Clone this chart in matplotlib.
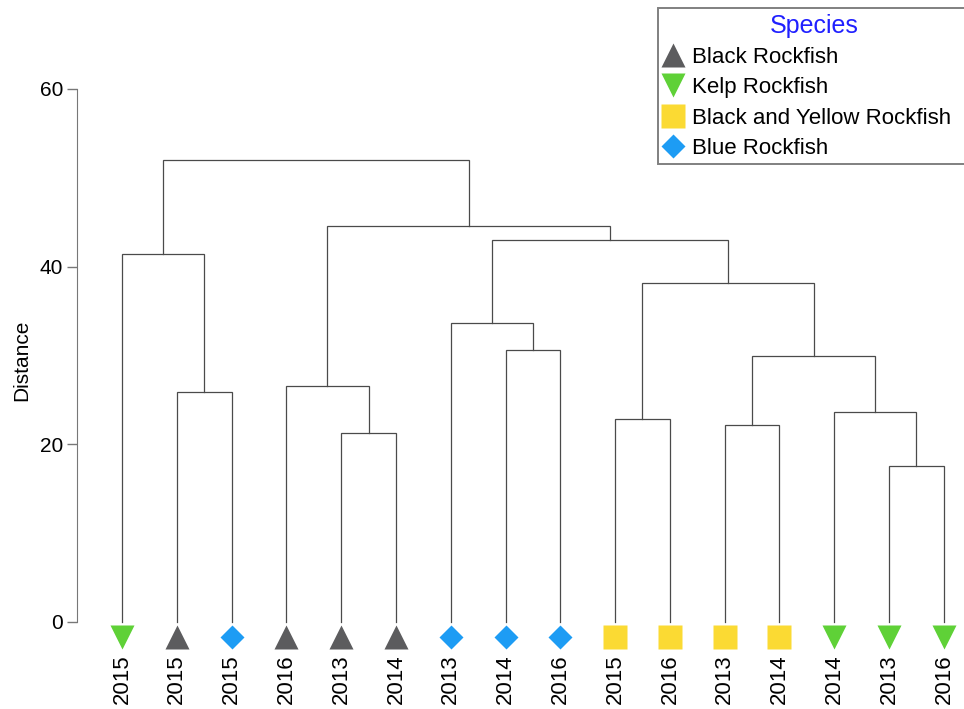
import matplotlib.pyplot as plt
from matplotlib.lines import Line2D

plt.rcParams['font.family'] = ['Liberation Sans', 'DejaVu Sans']

# leaves, left to right
leaf_species = ["Kelp", "Black", "Blue", "Black", "Black", "Black", "Blue", "Blue",
                "Blue", "BY", "BY", "BY", "BY", "Kelp", "Kelp", "Kelp"]
leaf_years = ["2015", "2015", "2015", "2016", "2013", "2014", "2013", "2014",
              "2016", "2015", "2016", "2013", "2014", "2014", "2013", "2016"]

# merges: (left node, right node, height); leaves are 0..15, merge k gets id 16+k
merges = [
    (1, 2, 25.9),
    (0, 16, 41.4),
    (4, 5, 21.3),
    (3, 18, 26.6),
    (7, 8, 30.6),
    (6, 20, 33.7),
    (9, 10, 22.9),
    (11, 12, 22.2),
    (14, 15, 17.6),
    (13, 24, 23.6),
    (23, 25, 29.9),
    (22, 26, 38.2),
    (21, 27, 43.0),
    (19, 28, 44.6),
    (17, 29, 52.0),
]

species_names = ["Black", "Kelp", "BY", "Blue"]
species_labels = ["Black Rockfish", "Kelp Rockfish", "Black and Yellow Rockfish", "Blue Rockfish"]
species_marker = {"Black": "^", "Kelp": "v", "BY": "s", "Blue": "D"}
species_size = {"Black": 17, "Kelp": 17, "BY": 17, "Blue": 12.5}
species_color = {"Black": "#5c5c5e", "Kelp": "#5fd137", "BY": "#fbda33", "Blue": "#1d9cf4"}

fig = plt.figure(figsize=(9.64, 7.09), dpi=100)
ax = fig.add_axes([77 / 964, 0.0852, 0.920, 0.8144])

line_col = "#4a4a4a"
xpos = {i: float(i) for i in range(len(leaf_years))}
ypos = {i: 0.0 for i in range(len(leaf_years))}
for k, (a, b, h) in enumerate(merges):
    xa, xb = xpos[a], xpos[b]
    ax.plot([xa, xa, xb, xb], [ypos[a], h, h, ypos[b]], color=line_col, lw=0.9,
            solid_joinstyle='miter')
    xpos[16 + k] = (xa + xb) / 2
    ypos[16 + k] = h

for i, sp in enumerate(leaf_species):
    ax.plot(i, -1.7, marker=species_marker[sp], ms=species_size[sp],
            color=species_color[sp], mec='none', clip_on=False, zorder=3)

ax.set_xlim(-0.82, 15.365)
ax.set_ylim(-3, 62)
ax.set_xticks(range(len(leaf_years)))
ax.set_xticklabels(leaf_years, rotation=90, fontsize=16)
ax.tick_params(axis='x', length=0, pad=4.5)
ax.set_yticks([0, 20, 40, 60])
ax.tick_params(axis='y', labelsize=15, length=7, width=1, color="#777777", pad=3)
for s in ['top', 'right', 'bottom']:
    ax.spines[s].set_visible(False)
ax.spines['left'].set_bounds(0, 60)
ax.spines['left'].set_color("#777777")
ax.set_ylabel("Distance", fontsize=15, labelpad=6)

handles = [Line2D([], [], ls='none', marker=species_marker[s], ms=species_size[s],
                  color=species_color[s], mec='none') for s in species_names]
leg = fig.legend(handles, species_labels, loc='upper left', mode='expand',
                 bbox_to_anchor=(658 / 964, 0, 312 / 964, 1 - 8 / 709), fontsize=16,
                 title="Species", title_fontsize=18, fancybox=False,
                 edgecolor="#808080", framealpha=1, handlelength=0.85,
                 handletextpad=0.45, labelspacing=0.42, borderpad=0.25,
                 borderaxespad=0)
leg.get_title().set_color("#2020ff")
leg.get_frame().set_linewidth(1.4)

fig.savefig("out.png", dpi=100)
